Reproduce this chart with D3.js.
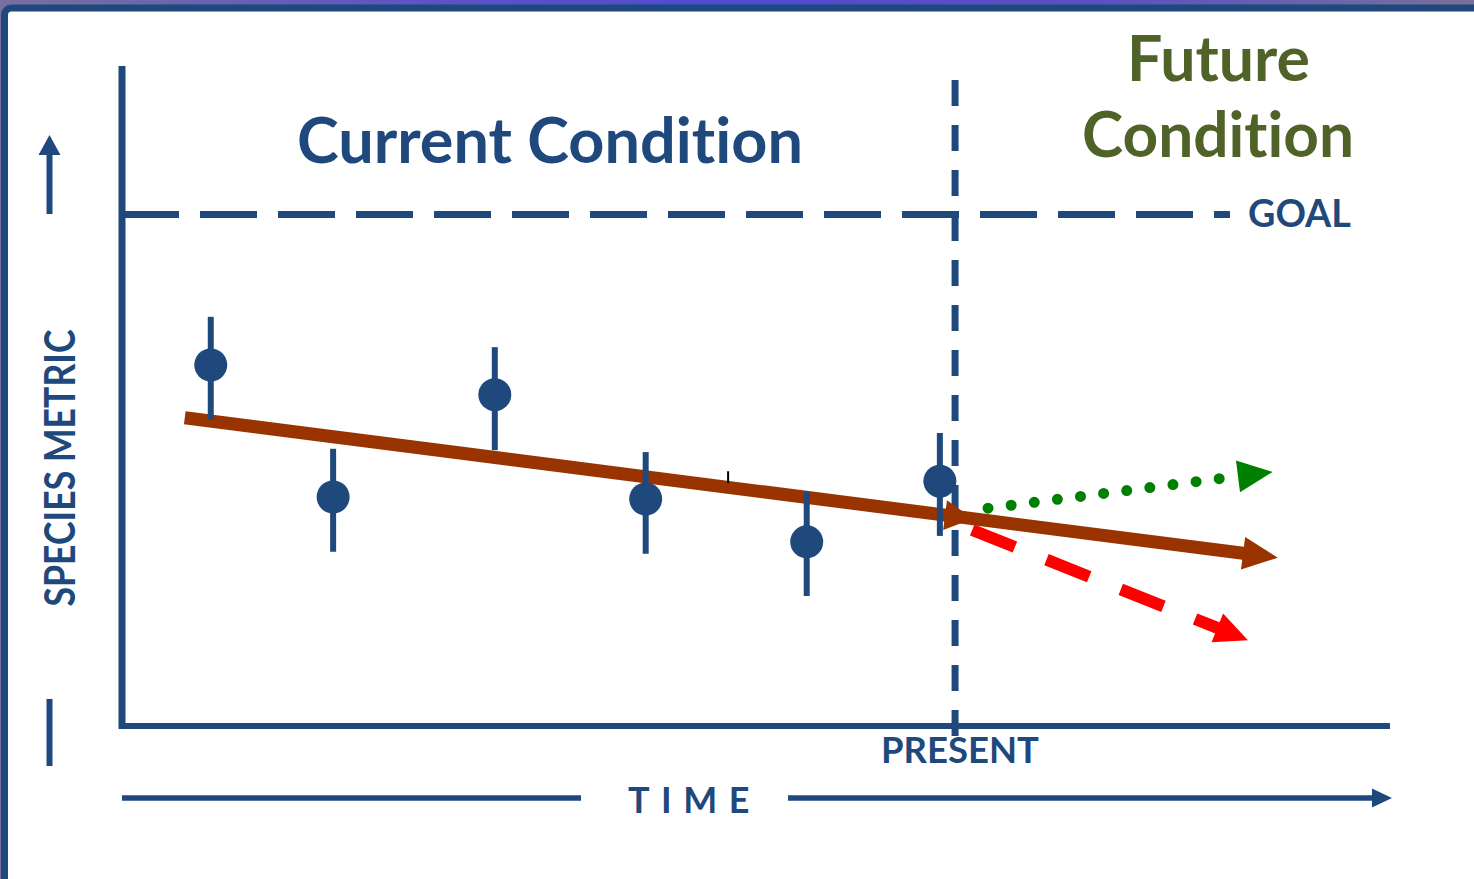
<!DOCTYPE html>
<html>
<head>
<meta charset="utf-8">
<script src="https://d3js.org/d3.v7.min.js"></script>
<style>
  html, body { margin: 0; padding: 0; background: #fff; overflow: hidden; }
  svg { display: block; }
  text {
    font-family: Lato, "Open Sans", sans-serif;
    font-weight: 700;
    font-variant-ligatures: none;
    font-feature-settings: "liga" 0, "clig" 0;
  }
</style>
</head>
<body>
<div id="chart"></div>
<script>
/* ============================================================
   DATA
   ============================================================ */

const timeDomain   = [0, 20];     // x axis, arbitrary time units
const metricDomain = [0, 100];    // y axis, species metric

// observed surveys with error bars
const obsTime  = [1.40, 3.33, 5.88, 8.26, 10.80, 12.90];
const obsValue = [54.7, 34.7, 50.2, 34.4, 27.9, 37.1];
const obsLow   = [46.4, 26.4, 41.8, 26.1, 19.7, 28.8];
const obsHigh  = [62.0, 42.0, 57.4, 41.5, 35.5, 44.4];

const presentTime = 13.14;
const goalValue   = 77.5;

// fitted trend, continued into the future
const trendTime       = [0.99, 18.23];
const trendValue      = [46.7, 25.5];
const trendMarkerTime = 13.42;   // arrowhead sitting at "present"

// alternative futures
const improveTime  = [13.66, 18.15];
const improveValue = [33.0, 38.5];
const declineTime  = [13.41, 17.76];
const declineValue = [29.7, 13.0];

// stray mark in the source image
const strayTime  = [9.56, 9.56];
const strayValue = [36.8, 38.6];

/* ============================================================
   STYLE
   ============================================================ */

const W = 1474, H = 879;
const BLUE  = '#1F497D';
const OLIVE = '#4F6228';
const BROWN = '#993300';
const GREEN = '#008000';
const RED   = '#FF0000';

const svg = d3.select('#chart').append('svg')
  .attr('width', W)
  .attr('height', H);

/* Frame: gradient strip on top, blue rounded border */
const grad = svg.append('defs').append('linearGradient')
  .attr('id', 'topbar').attr('x1', 0).attr('x2', 1).attr('y1', 0).attr('y2', 0);
[[0, '#77709e'], [0.3, '#5b53c6'], [0.5, '#514ad0'], [0.75, '#5b51c0'], [1, '#77719a']]
  .forEach(([o, c]) => grad.append('stop').attr('offset', o).attr('stop-color', c));

svg.append('rect').attr('width', W).attr('height', H).attr('fill', 'url(#topbar)');
svg.append('rect')
  .attr('x', 4.5).attr('y', 8)
  .attr('width', W + 40).attr('height', H + 40)
  .attr('rx', 7)
  .attr('fill', '#fff')
  .attr('stroke', BLUE)
  .attr('stroke-width', 7);

/* Scales */
const x = d3.scaleLinear().domain(timeDomain).range([122, 1390]);
const y = d3.scaleLinear().domain(metricDomain).range([726, 66]);
const trendAt = d3.scaleLinear().domain(trendTime).range(trendValue);

/* Arrow helper: line ending in a filled triangle at (x1,y1) */
function arrow(g, x0, y0, x1, y1, o) {
  const a = Math.atan2(y1 - y0, x1 - x0);
  const cos = Math.cos(a), sin = Math.sin(a);
  const bx = x1 - o.headLen * cos, by = y1 - o.headLen * sin;
  const ex = x1 - (o.lineBack ?? o.headLen - 2) * cos;
  const ey = y1 - (o.lineBack ?? o.headLen - 2) * sin;
  if (!o.headOnly) {
    g.append('line')
      .attr('x1', x0).attr('y1', y0).attr('x2', ex).attr('y2', ey)
      .attr('stroke', o.color)
      .attr('stroke-width', o.width)
      .attr('stroke-linecap', o.cap || 'butt')
      .attr('stroke-dasharray', o.dash || null);
  }
  const hw = o.headW / 2;
  g.append('path')
    .attr('d', `M${x1},${y1}L${bx - hw * sin},${by + hw * cos}L${bx + hw * sin},${by - hw * cos}Z`)
    .attr('fill', o.color);
}

/* Fit a text's font size to a target width */
function fit(sel, width) {
  const w = sel.node().getComputedTextLength();
  sel.attr('font-size', +sel.attr('font-size') * width / w);
  return sel;
}

const plot = svg.append('g');

/* Goal line */
plot.append('line')
  .attr('x1', x(timeDomain[0])).attr('x2', 1230)
  .attr('y1', y(goalValue)).attr('y2', y(goalValue))
  .attr('stroke', BLUE).attr('stroke-width', 7)
  .attr('stroke-dasharray', '57 21');

/* Present line */
plot.append('line')
  .attr('x1', x(presentTime)).attr('x2', x(presentTime))
  .attr('y1', 80).attr('y2', 736)
  .attr('stroke', BLUE).attr('stroke-width', 7)
  .attr('stroke-dasharray', '26 19');

/* Axes (plain lines, no ticks) */
plot.append('line')
  .attr('x1', x(timeDomain[0])).attr('x2', x(timeDomain[0]))
  .attr('y1', y(metricDomain[1])).attr('y2', y(metricDomain[0]) + 3)
  .attr('stroke', BLUE).attr('stroke-width', 7);
plot.append('line')
  .attr('x1', x(timeDomain[0])).attr('x2', x(timeDomain[1]))
  .attr('y1', y(metricDomain[0])).attr('y2', y(metricDomain[0]))
  .attr('stroke', BLUE).attr('stroke-width', 6);

/* Future scenarios */
arrow(plot, x(declineTime[0]), y(declineValue[0]), x(declineTime[1]), y(declineValue[1]),
  { color: RED, width: 12, headLen: 33, headW: 31, lineBack: 31, dash: '46 34' });
arrow(plot, x(improveTime[0]), y(improveValue[0]), x(improveTime[1]), y(improveValue[1]),
  { color: GREEN, width: 11, headLen: 35, headW: 32, lineBack: 40, dash: '0 23.3', cap: 'round' });

/* Trend */
arrow(plot, x(trendTime[0]), y(trendValue[0]), x(trendTime[1]), y(trendValue[1]),
  { color: BROWN, width: 13, headLen: 35, headW: 33 });
arrow(plot, x(trendTime[0]), y(trendValue[0]), x(trendMarkerTime), y(trendAt(trendMarkerTime)),
  { color: BROWN, width: 13, headLen: 28, headW: 30, headOnly: true });

/* Observations with error bars */
const obs = obsTime.map((t, i) => ({ t, v: obsValue[i], lo: obsLow[i], hi: obsHigh[i] }));
const pts = plot.append('g').selectAll('g').data(obs).join('g');
pts.append('line')
  .attr('x1', d => x(d.t)).attr('x2', d => x(d.t))
  .attr('y1', d => y(d.hi)).attr('y2', d => y(d.lo))
  .attr('stroke', BLUE).attr('stroke-width', 6);
pts.append('circle')
  .attr('cx', d => x(d.t)).attr('cy', d => y(d.v))
  .attr('r', 16.5)
  .attr('fill', BLUE);

plot.append('line')
  .attr('x1', x(strayTime[0])).attr('x2', x(strayTime[1]))
  .attr('y1', y(strayValue[0])).attr('y2', y(strayValue[1]))
  .attr('stroke', '#000').attr('stroke-width', 2);

/* Labels */
fit(svg.append('text').attr('x', 297).attr('y', 163)
  .attr('font-size', 60).attr('fill', BLUE).text('Current Condition'), 506);
fit(svg.append('text').attr('x', 1127).attr('y', 81)
  .attr('font-size', 56).attr('fill', OLIVE).text('Future'), 183);
fit(svg.append('text').attr('x', 1082).attr('y', 157)
  .attr('font-size', 56).attr('fill', OLIVE).text('Condition'), 272);
fit(svg.append('text').attr('x', 1248).attr('y', 227)
  .attr('font-size', 34).attr('fill', BLUE).text('GOAL'), 103);
fit(svg.append('text').attr('x', 881).attr('y', 763)
  .attr('font-size', 34).attr('fill', BLUE).text('PRESENT'), 158);

/* TIME axis arrow */
const timeY = 798;
svg.append('line')
  .attr('x1', 122).attr('x2', 581).attr('y1', timeY).attr('y2', timeY)
  .attr('stroke', BLUE).attr('stroke-width', 5.5);
arrow(svg, 788, timeY, 1392, timeY, { color: BLUE, width: 5.5, headLen: 20, headW: 19 });
svg.append('text')
  .attr('x', 628).attr('y', 813)
  .attr('font-size', 36)
  .attr('letter-spacing', 11.5)
  .attr('fill', BLUE)
  .text('TIME');

/* SPECIES METRIC axis arrow */
arrow(svg, 49.5, 214, 49.5, 135, { color: BLUE, width: 6, headLen: 20, headW: 22 });
svg.append('line')
  .attr('x1', 49.5).attr('x2', 49.5).attr('y1', 699).attr('y2', 766)
  .attr('stroke', BLUE).attr('stroke-width', 6);
svg.append('text')
  .attr('transform', 'translate(75,468) rotate(-90)')
  .attr('text-anchor', 'middle')
  .attr('font-size', 42)
  .attr('textLength', 277)
  .attr('lengthAdjust', 'spacingAndGlyphs')
  .attr('fill', BLUE)
  .text('SPECIES METRIC');
</script>
</body>
</html>
